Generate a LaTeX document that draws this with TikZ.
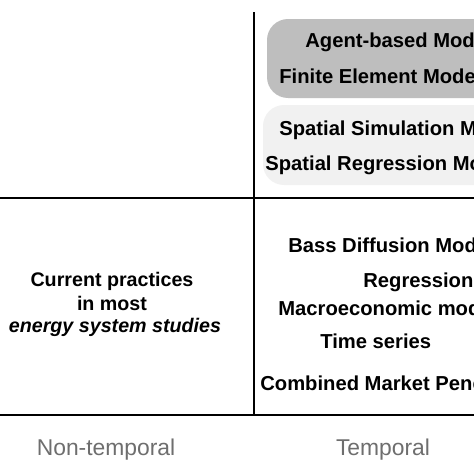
\documentclass[tikz,border=0pt]{standalone}
\usepackage{fontspec}
\setmainfont{Liberation Sans}
\definecolor{boxdark}{RGB}{190,190,190}
\definecolor{boxlight}{RGB}{241,241,241}
\definecolor{axisgrey}{RGB}{110,110,110}
\tikzset{
  method/.style={anchor=base west, inner sep=0pt, font=\fontsize{11.5}{13}\selectfont\bfseries},
  practice/.style={anchor=base, inner sep=0pt, font=\fontsize{11.2}{13}\selectfont\bfseries},
  axisname/.style={anchor=base, inner sep=0pt, text=axisgrey, font=\fontsize{13}{15}\selectfont},
}
\begin{document}
\begin{tikzpicture}[x=0.02cm, y=-0.02cm]
        \useasboundingbox (0,0) rectangle (474,474);
        \clip (0,0) rectangle (474,474);
        \fill[white] (0,0) rectangle (474,474);
        % shaded groups
        \fill[boxdark, rounded corners=12] (267,19) rectangle (500,98);
        \fill[boxlight, rounded corners=12] (263,105) rectangle (500,185);
        % grid
        \draw[line width=1.1pt] (254,12) -- (254,415);
        \draw[line width=1.1pt] (0,198) -- (474,198);
        \draw[line width=1.1pt] (0,415) -- (474,415);
        % spatial-temporal methods
        \node[method] (agent) at (305,47) {Agent-based Models};
        \node[method] (fem) at (279,83) {Finite Element Models};
        \node[method] (spsim) at (279,135) {Spatial Simulation Models};
        \node[method] (spreg) at (265,170) {Spatial Regression Models};
        % temporal methods
        \node[method] (bass) at (288,252) {Bass Diffusion Models};
        \node[method] (regr) at (363,287) {Regression};
        \node[method] (macro) at (278,315) {Macroeconomic models};
        \node[method] (tseries) at (320,348) {Time series};
        \node[method] (combined) at (260,390) {Combined Market Penetration};
        % current practice
        \node[practice] (current) at (112,286) {Current practices};
        \node[practice] (inmost) at (112,310) {in most};
        \node[practice] (energy) at (115,332) {\itshape energy system studies};
        % axis names
        \node[axisname] (nontemp) at (106,455) {Non-temporal};
        \node[axisname] (temp) at (383,455) {Temporal};
\end{tikzpicture}
\end{document}
